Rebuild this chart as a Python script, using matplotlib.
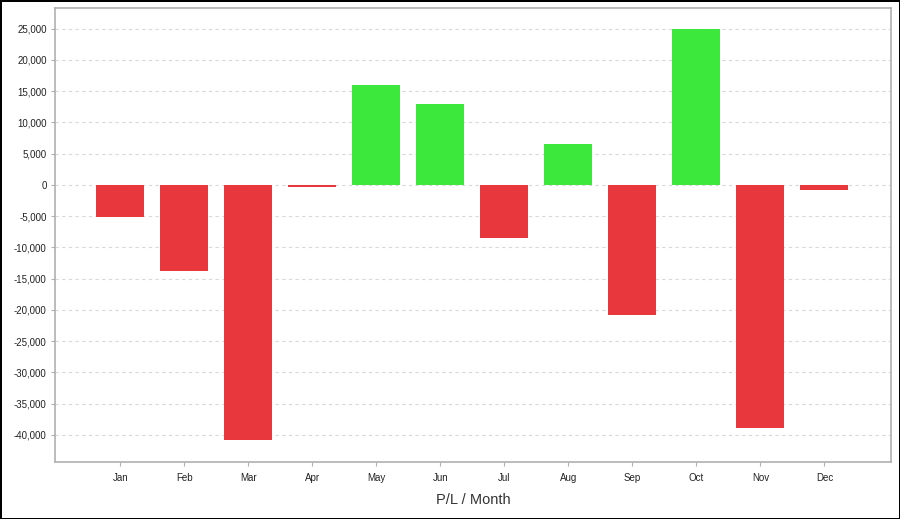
import matplotlib.pyplot as plt
from matplotlib.ticker import FuncFormatter, MultipleLocator

plt.rcParams["font.family"] = ["Liberation Sans", "DejaVu Sans"]

months = ["Jan", "Feb", "Mar", "Apr", "May", "Jun", "Jul", "Aug", "Sep", "Oct", "Nov", "Dec"]
pl = [-5200, -13700, -40800, -300, 16000, 13000, -8500, 6500, -20800, 25000, -38900, -800]

RED = "#e8383d"
GREEN = "#3de83d"

fig = plt.figure(figsize=(9.0, 5.19), dpi=100)
fig.patch.set_edgecolor("black")
fig.patch.set_linewidth(2)
ax = fig.add_axes([55 / 900, 57 / 519, 836 / 900, 454 / 519])

x = list(range(len(months)))
colors = [GREEN if v >= 0 else RED for v in pl]
ax.bar(x, pl, width=0.75, color=colors, zorder=3)

ax.set_xlim(-1.02, 12.04)
ax.set_ylim(-44320, 28320)
ax.yaxis.set_major_locator(MultipleLocator(5000))
ax.yaxis.set_major_formatter(FuncFormatter(lambda v, p: f"{int(v):,}"))
ax.set_xticks(x)
ax.set_xticklabels(months)
ax.grid(axis="y", color="#d8d8d8", linestyle=(0, (3, 3)), linewidth=0.8, zorder=0)

for s in ax.spines.values():
    s.set_color("#b0b0b0")
    s.set_linewidth(1.2)
ax.tick_params(axis="both", labelsize=7, color="#b0b0b0", length=3, pad=5, labelcolor="#222222")
ax.tick_params(axis="y", pad=3)
ax.set_xlabel("P/L / Month", fontsize=10.5, labelpad=7, color="#333333")

fig.savefig("out.png", dpi=100, edgecolor=fig.get_edgecolor())
